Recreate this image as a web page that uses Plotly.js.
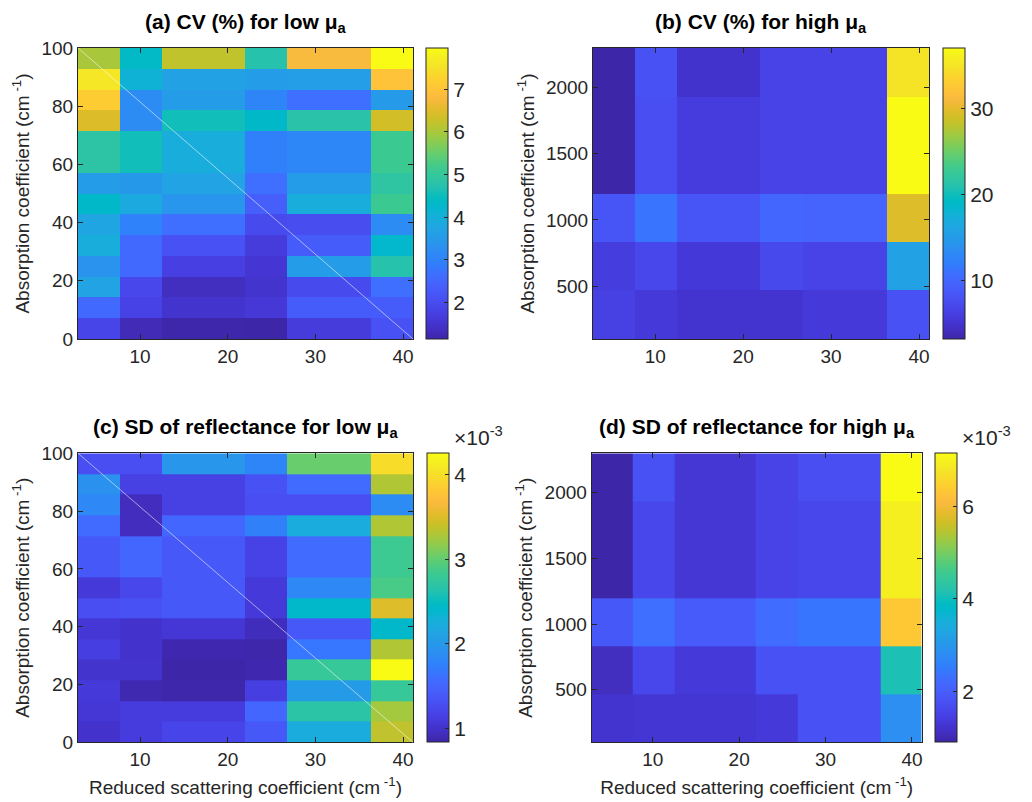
<!DOCTYPE html>
<html>
<head>
<meta charset="utf-8">
<script src="https://cdn.plot.ly/plotly-3.0.1.min.js"></script>
<style>
  html, body { margin: 0; padding: 0; background: #ffffff; }
  #chart { width: 1032px; height: 802px; }
</style>
</head>
<body>
<div id="chart"></div>
<script>
// ---------------- DATA ----------------
// Reduced scattering coefficient (cm^-1): cell edges of the image columns
const musEdges = [2.93, 7.72, 12.5, 21.97, 26.76, 36.34, 41.13];
// Absorption coefficient (cm^-1): cell edges of the image rows
const muaLowEdges = [0, 7.14, 14.29, 21.43, 28.57, 35.71, 42.86, 50, 57.14, 71.43, 78.57, 85.71, 92.86, 100];
const muaHighEdges = [100, 467, 833, 1200, 1933, 2300];

// (a) CV (%) for low mu_a  — rows from mu_a = 0 (bottom) to 100 (top)
const cvLow = [
  [1.85, 1.28, 1.17, 1.14, 1.65, 2.10],
  [2.55, 1.80, 1.50, 1.60, 2.30, 2.30],
  [3.70, 1.90, 1.35, 1.50, 1.95, 2.65],
  [3.35, 2.55, 1.75, 1.55, 3.55, 4.75],
  [3.95, 2.55, 2.10, 1.65, 2.30, 4.25],
  [3.75, 3.00, 2.65, 1.95, 2.00, 3.20],
  [4.30, 3.85, 3.40, 2.35, 3.95, 5.10],
  [3.55, 3.45, 3.70, 2.65, 3.55, 4.90],
  [4.85, 4.55, 3.95, 2.95, 3.10, 5.10],
  [6.45, 3.20, 4.55, 4.30, 4.80, 6.35],
  [7.15, 3.20, 3.55, 3.05, 2.65, 3.50],
  [7.60, 4.10, 3.65, 3.55, 3.60, 7.00],
  [6.00, 4.35, 6.20, 4.75, 6.80, 7.97]
];

// (b) CV (%) for high mu_a — rows from bottom to top
const cvHigh = [
  [6.3, 5.6, 5.0, 5.0, 5.6, 7.9],
  [6.0, 7.0, 5.5, 7.1, 6.6, 15.7],
  [8.3, 11.2, 8.3, 10.0, 9.6, 29.6],
  [3.2, 7.6, 5.9, 6.6, 6.6, 37.05],
  [3.2, 7.9, 4.9, 6.6, 6.6, 35.0]
];

// (c) SD of reflectance for low mu_a (x 10^-3) — rows from bottom to top
const sdLow = [
  [1.00, 1.10, 1.20, 1.38, 2.24, 3.36],
  [1.06, 1.10, 1.10, 1.52, 2.68, 3.25],
  [1.08, 0.88, 0.85, 1.13, 2.03, 2.78],
  [1.02, 1.02, 0.84, 0.87, 2.78, 4.25],
  [1.13, 1.00, 0.87, 0.85, 1.66, 3.30],
  [1.06, 1.00, 1.06, 0.93, 1.38, 2.41],
  [1.28, 1.32, 1.38, 1.08, 2.41, 3.50],
  [1.08, 1.22, 1.38, 1.08, 1.83, 2.88],
  [1.38, 1.52, 1.38, 1.17, 1.56, 2.82],
  [1.56, 0.94, 1.52, 1.75, 2.24, 3.30],
  [1.83, 0.94, 1.15, 1.28, 1.28, 1.87],
  [1.93, 1.15, 1.15, 1.32, 1.56, 3.30],
  [1.28, 1.28, 1.97, 1.80, 3.02, 3.98]
];

// (d) SD of reflectance for high mu_a (x 10^-3) — rows from bottom to top
const sdHigh = [
  [1.25, 1.28, 1.28, 1.35, 1.78, 2.85],
  [1.10, 1.60, 1.35, 1.78, 1.78, 4.10],
  [1.90, 2.30, 1.95, 2.25, 2.40, 6.33],
  [0.91, 1.60, 1.30, 1.53, 1.60, 6.95],
  [0.91, 1.78, 1.30, 1.53, 1.72, 7.14]
];

const xTicks = [10, 20, 30, 40];
const yTicksLow = [0, 20, 40, 60, 80, 100];
const yTicksHigh = [500, 1000, 1500, 2000];

const titles = [
  '<b>(a) CV (%) for low μ<sub>a</sub></b>',
  '<b>(b) CV (%) for high μ<sub>a</sub></b>',
  '<b>(c) SD of reflectance for low μ<sub>a</sub></b>',
  '<b>(d) SD of reflectance for high μ<sub>a</sub></b>'
];
const yLabel = 'Absorption coefficient (cm<sup> -1</sup>)';
const xLabel = 'Reduced scattering coefficient (cm<sup> -1</sup>)';

// ---------------- STYLE ----------------
const parula = [
[0.2422,0.1504,0.6603],[0.2504,0.1650,0.7076],[0.2578,0.1818,0.7511],[0.2647,0.1978,0.7952],
[0.2706,0.2147,0.8364],[0.2751,0.2342,0.8710],[0.2783,0.2559,0.8991],[0.2803,0.2782,0.9221],
[0.2813,0.3006,0.9414],[0.2810,0.3228,0.9579],[0.2795,0.3447,0.9717],[0.2760,0.3667,0.9829],
[0.2699,0.3892,0.9906],[0.2602,0.4123,0.9952],[0.2440,0.4358,0.9988],[0.2206,0.4603,0.9973],
[0.1963,0.4847,0.9892],[0.1834,0.5074,0.9798],[0.1786,0.5289,0.9682],[0.1764,0.5499,0.9520],
[0.1687,0.5703,0.9359],[0.1540,0.5902,0.9218],[0.1460,0.6091,0.9079],[0.1380,0.6276,0.8973],
[0.1248,0.6459,0.8883],[0.1113,0.6635,0.8763],[0.0952,0.6798,0.8598],[0.0689,0.6948,0.8394],
[0.0297,0.7082,0.8163],[0.0036,0.7203,0.7917],[0.0067,0.7312,0.7660],[0.0433,0.7411,0.7394],
[0.0964,0.7500,0.7120],[0.1408,0.7584,0.6842],[0.1717,0.7670,0.6554],[0.1938,0.7758,0.6251],
[0.2161,0.7843,0.5923],[0.2470,0.7918,0.5567],[0.2906,0.7973,0.5188],[0.3406,0.8008,0.4789],
[0.3909,0.8029,0.4354],[0.4456,0.8024,0.3909],[0.5044,0.7993,0.3480],[0.5616,0.7942,0.3045],
[0.6174,0.7876,0.2612],[0.6720,0.7793,0.2227],[0.7242,0.7698,0.1910],[0.7738,0.7598,0.1646],
[0.8203,0.7498,0.1535],[0.8634,0.7406,0.1596],[0.9035,0.7330,0.1774],[0.9393,0.7288,0.2100],
[0.9728,0.7298,0.2394],[0.9956,0.7434,0.2371],[0.9970,0.7659,0.2199],[0.9952,0.7893,0.2028],
[0.9892,0.8136,0.1885],[0.9786,0.8386,0.1766],[0.9676,0.8639,0.1643],[0.9610,0.8890,0.1537],
[0.9597,0.9135,0.1423],[0.9628,0.9373,0.1265],[0.9691,0.9606,0.1064],[0.9769,0.9839,0.0805]
];
const colorscale = parula.map((c, i) => [i / (parula.length - 1),
  'rgb(' + Math.round(c[0]*255) + ',' + Math.round(c[1]*255) + ',' + Math.round(c[2]*255) + ')']);

const W = 1032, H = 802;
const px = v => v / W;
const py = v => 1 - v / H;
const FONT = '"Liberation Sans", Arial, Helvetica, sans-serif';
const INK = '#262626';

// panel boxes in pixels: [left, right, top, bottom]
const boxes = [
  [78, 413, 48, 339],
  [593, 929, 48, 339],
  [78, 413, 453.3, 742.3],
  [591.7, 921.7, 453.3, 742.3]
];
// colorbar left edges in pixels
const cbLeft = [426, 942.7, 426.7, 935];
const cbDtick = [1, 10, 1, 2];

const zs = [cvLow, cvHigh, sdLow, sdHigh];
const ys = [muaLowEdges, muaHighEdges, muaLowEdges, muaHighEdges];

const data = zs.map((z, i) => {
  const b = boxes[i];
  const sfx = i === 0 ? '' : String(i + 1);
  return {
    type: 'heatmap',
    x: musEdges,
    y: ys[i],
    z: z,
    xaxis: 'x' + sfx,
    yaxis: 'y' + sfx,
    colorscale: colorscale,
    zsmooth: false,
    hoverinfo: 'x+y+z',
    colorbar: {
      x: px(cbLeft[i]), xanchor: 'left', xref: 'paper',
      y: py((b[2] + b[3]) / 2), yanchor: 'middle', yref: 'paper',
      len: (b[3] - b[2]) / H, lenmode: 'fraction',
      thickness: 22, thicknessmode: 'pixels',
      xpad: 0, ypad: 0,
      outlinewidth: 1, outlinecolor: INK,
      ticks: 'inside', ticklen: 4, tickcolor: INK, tickwidth: 1,
      dtick: cbDtick[i], tick0: 0,
      tickfont: { family: FONT, size: 21, color: INK }
    }
  };
});

const layout = {
  width: W, height: H,
  margin: { l: 0, r: 0, t: 0, b: 0 },
  paper_bgcolor: '#ffffff',
  plot_bgcolor: '#ffffff',
  font: { family: FONT, color: INK },
  showlegend: false,
  annotations: [],
  shapes: []
};

boxes.forEach((b, i) => {
  const sfx = i === 0 ? '' : String(i + 1);
  const axBase = {
    showline: true, linecolor: INK, linewidth: 1, mirror: 'ticks',
    ticks: 'inside', ticklen: 5, tickcolor: INK, tickwidth: 1,
    showgrid: false, zeroline: false, fixedrange: true,
    tickfont: { family: FONT, size: 19, color: INK }
  };
  layout['xaxis' + sfx] = Object.assign({}, axBase, {
    domain: [px(b[0]), px(b[1])],
    anchor: 'y' + sfx,
    range: [musEdges[0], musEdges[musEdges.length - 1]],
    tickmode: 'array', tickvals: xTicks,
    title: i >= 2 ? { text: xLabel, font: { family: FONT, size: 19, color: INK }, standoff: 11 } : { text: '' }
  });
  const yE = ys[i];
  layout['yaxis' + sfx] = Object.assign({}, axBase, {
    domain: [py(b[3]), py(b[2])],
    anchor: 'x' + sfx,
    range: [yE[0], yE[yE.length - 1]],
    tickmode: 'array', tickvals: (i % 2 === 0) ? yTicksLow : yTicksHigh,
    title: { text: yLabel, font: { family: FONT, size: 19, color: INK }, standoff: 6 }
  });
  // panel title
  layout.annotations.push({
    text: titles[i], xref: 'paper', yref: 'paper',
    x: px((b[0] + b[1]) / 2), y: py(b[2] - 25), xanchor: 'center', yanchor: 'middle',
    showarrow: false, font: { family: FONT, size: 21, color: '#000000' }
  });
});

// colorbar multipliers for the SD panels
[[451.7, 2], [960, 3]].forEach(([lx, i]) => {
  layout.annotations.push({
    text: '×10<sup>-3</sup>', xref: 'paper', yref: 'paper',
    x: px(lx), y: py(boxes[i][2] - 2), xanchor: 'left', yanchor: 'bottom',
    showarrow: false, font: { family: FONT, size: 21, color: INK }
  });
});

// faint diagonal rendering line seen in the low-mu_a images
['', '3'].forEach(s => {
  layout.shapes.push({
    type: 'line', xref: 'x' + s + ' domain', yref: 'y' + s + ' domain',
    x0: 0, y0: 1, x1: 1, y1: 0,
    line: { color: 'rgba(255,255,255,0.55)', width: 1 }
  });
});

Plotly.newPlot('chart', data, layout, { displayModeBar: false, staticPlot: true });
</script>
</body>
</html>
